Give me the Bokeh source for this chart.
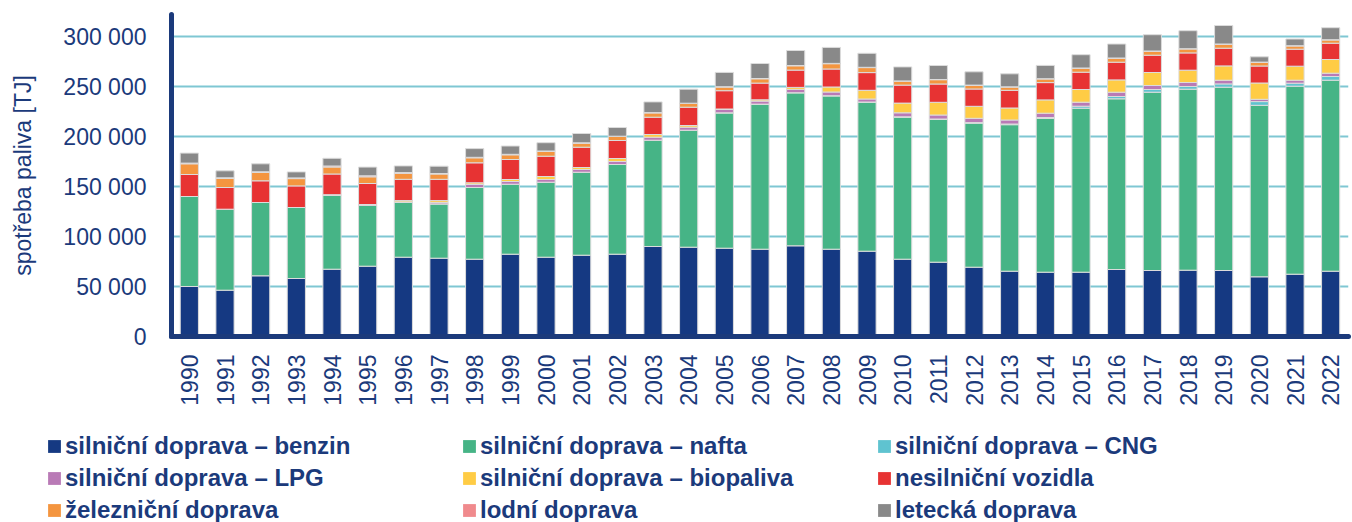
from bokeh.plotting import figure
from bokeh.models import ColumnDataSource, FactorRange, Range1d, FixedTicker
from bokeh.embed import file_html
from bokeh.resources import INLINE
import math

years = [str(y) for y in range(1990, 2023)]

benzin = [50000, 46300, 60700, 58000, 67300, 70300, 79300, 78300, 77300, 82300, 79300,
          81300, 82300, 90000, 89300, 88300, 87300, 90700, 87300, 85300, 77300,
          74300, 69300, 65300, 64300, 64300, 67000, 66000, 66300, 66000, 59700, 62300, 65300]
nafta = [90000, 81000, 73300, 71000, 74000, 61000, 55000, 54300, 71700, 70000, 75000,
         83000, 89700, 106300, 117000, 135300, 145000, 153000, 153300, 149000, 142000,
         142700, 144000, 146500, 153700, 164000, 170700, 178300, 181000, 183300, 171500, 188000, 191000]
cng = [0, 0, 0, 0, 0, 0, 0, 0, 0, 0, 0,
       0, 0, 0, 0, 100, 100, 100, 200, 200, 400,
       500, 600, 700, 1000, 2000, 2300, 2700, 2700, 3300, 3700, 3000, 3700]
lpg = [0, 0, 0, 0, 500, 700, 300, 1300, 3000, 2700, 2700,
       2700, 3000, 3000, 3000, 3300, 3000, 3300, 3700, 3000, 4000,
       4000, 4300, 4000, 4300, 4000, 4300, 4000, 4000, 3700, 2300, 3000, 3300]
biopaliva = [0, 0, 0, 0, 0, 0, 1300, 2000, 1700, 2000, 3000,
             2000, 3000, 2700, 1700, 500, 1300, 2000, 5000, 8700, 9700,
             12700, 12000, 12000, 13300, 12700, 12300, 13000, 12300, 14300, 16300, 14000, 13700]
nesilnicni = [22000, 21700, 21700, 21600, 20700, 21000, 21300, 21300, 20000, 20000, 20300,
              20300, 18000, 17300, 18300, 18300, 16700, 17300, 18000, 17700, 18000,
              18300, 17300, 17700, 17300, 17300, 17700, 17300, 17300, 17700, 17000, 17000, 16300]
zeleznicni = [10700, 9000, 8300, 7300, 7000, 6700, 6000, 5300, 5000, 4700, 4700,
              4000, 4000, 4300, 3700, 3700, 4300, 4300, 5300, 5000, 4000,
              4300, 3700, 3300, 3700, 4000, 4000, 4000, 4000, 4000, 3700, 3300, 3300]
lodni = [700, 700, 700, 700, 1000, 1000, 700, 500, 500, 500, 500,
         400, 300, 300, 300, 300, 300, 300, 300, 300, 200,
         200, 200, 200, 200, 200, 200, 200, 200, 200, 200, 200, 200]
letecka = [10000, 7000, 8000, 6000, 7700, 8700, 6700, 7300, 8700, 8300, 8300,
           9300, 8700, 10700, 14000, 14300, 15000, 15000, 16000, 14000, 14000,
           14000, 13300, 13000, 13300, 13300, 14000, 16300, 18000, 18500, 5300, 6700, 12000]

series_keys = ["benzin", "nafta", "cng", "lpg", "biopaliva", "nesilnicni", "zeleznicni", "lodni", "letecka"]
series_labels = ["silniční doprava – benzin", "silniční doprava – nafta", "silniční doprava – CNG",
                 "silniční doprava – LPG", "silniční doprava – biopaliva", "nesilniční vozidla",
                 "železniční doprava", "lodní doprava", "letecká doprava"]
series_colors = ["#153982", "#46b486", "#5fc3d0", "#b97ab6", "#ffcc45", "#e73333",
                 "#f4953f", "#f08a8d", "#898989"]

y_ticks = [0, 50000, 100000, 150000, 200000, 250000, 300000]
y_tick_labels = ["0", "50 000", "100 000", "150 000", "200 000", "250 000", "300 000"]
y_title = "spotřeba paliva [TJ]"

source = ColumnDataSource(data=dict(years=years, benzin=benzin, nafta=nafta, cng=cng, lpg=lpg,
                                    biopaliva=biopaliva, nesilnicni=nesilnicni, zeleznicni=zeleznicni,
                                    lodni=lodni, letecka=letecka))

NAVY = "#1b3a7b"
FONT = "Liberation Sans"

x_range = FactorRange(*years, range_padding=0)

p = figure(x_range=x_range, y_range=Range1d(0, 322000),
           width=1352, height=422, output_backend="svg", toolbar_location=None,
           min_border_left=171, min_border_right=4, min_border_top=14, min_border_bottom=86)

p.vbar_stack(series_keys, x="years", width=0.51, source=source, color=series_colors,
             line_color="#dcdcdc", line_width=1)

p.outline_line_color = None
p.xgrid.grid_line_color = None
p.ygrid.grid_line_color = "#7fc7d3"
p.ygrid.grid_line_width = 2
p.ygrid.ticker = FixedTicker(ticks=y_ticks)

p.yaxis.ticker = FixedTicker(ticks=y_ticks)
p.yaxis.major_label_overrides = {t: l for t, l in zip(y_ticks, y_tick_labels)}
p.yaxis.axis_label = y_title

for ax in (p.xaxis[0], p.yaxis[0]):
    ax.axis_line_color = NAVY
    ax.axis_line_width = 5
    ax.axis_line_cap = "round"
    ax.major_tick_line_color = None
    ax.minor_tick_line_color = None
    ax.major_label_text_color = NAVY
    ax.major_label_text_font = FONT
    ax.major_label_text_font_size = "23px"

p.yaxis.major_label_standoff = 19
p.yaxis.axis_label_text_font = FONT
p.yaxis.axis_label_text_font_size = "23px"
p.yaxis.axis_label_text_font_style = "normal"
p.yaxis.axis_label_text_color = NAVY
p.yaxis.axis_label_standoff = 24

p.xaxis.major_label_orientation = math.pi / 2
p.xaxis.major_label_standoff = 12

# legend strip: a second root below the chart; its renderers are hidden, only the legend shows
pl = figure(x_range=x_range, y_range=Range1d(0, 1), width=1352, height=100,
            output_backend="svg", toolbar_location=None,
            x_axis_location=None, y_axis_location=None,
            min_border_left=0, min_border_right=0, min_border_top=0, min_border_bottom=0)
pl.outline_line_color = None
pl.grid.grid_line_color = None
leg_renderers = pl.vbar_stack(series_keys, x="years", width=0.51, source=source, color=series_colors,
                              line_color=None, legend_label=series_labels)
for r in leg_renderers:
    r.visible = False

lg = pl.legend[0]
lg.orientation = "horizontal"
lg.ncols = 3
lg.location = (46, -4)
lg.padding = 0
lg.margin = 0
lg.spacing = 0
lg.border_line_color = None
lg.background_fill_alpha = 0
lg.inactive_fill_alpha = 0
lg.click_policy = "none"
lg.glyph_width = 16
lg.glyph_height = 16
lg.label_standoff = 3
lg.label_width = 396
lg.label_height = 32
lg.label_text_font = FONT
lg.label_text_font_style = "bold"
lg.label_text_font_size = "24px"
lg.label_text_color = NAVY

open("out.html", "w").write(file_html([p, pl], INLINE))
